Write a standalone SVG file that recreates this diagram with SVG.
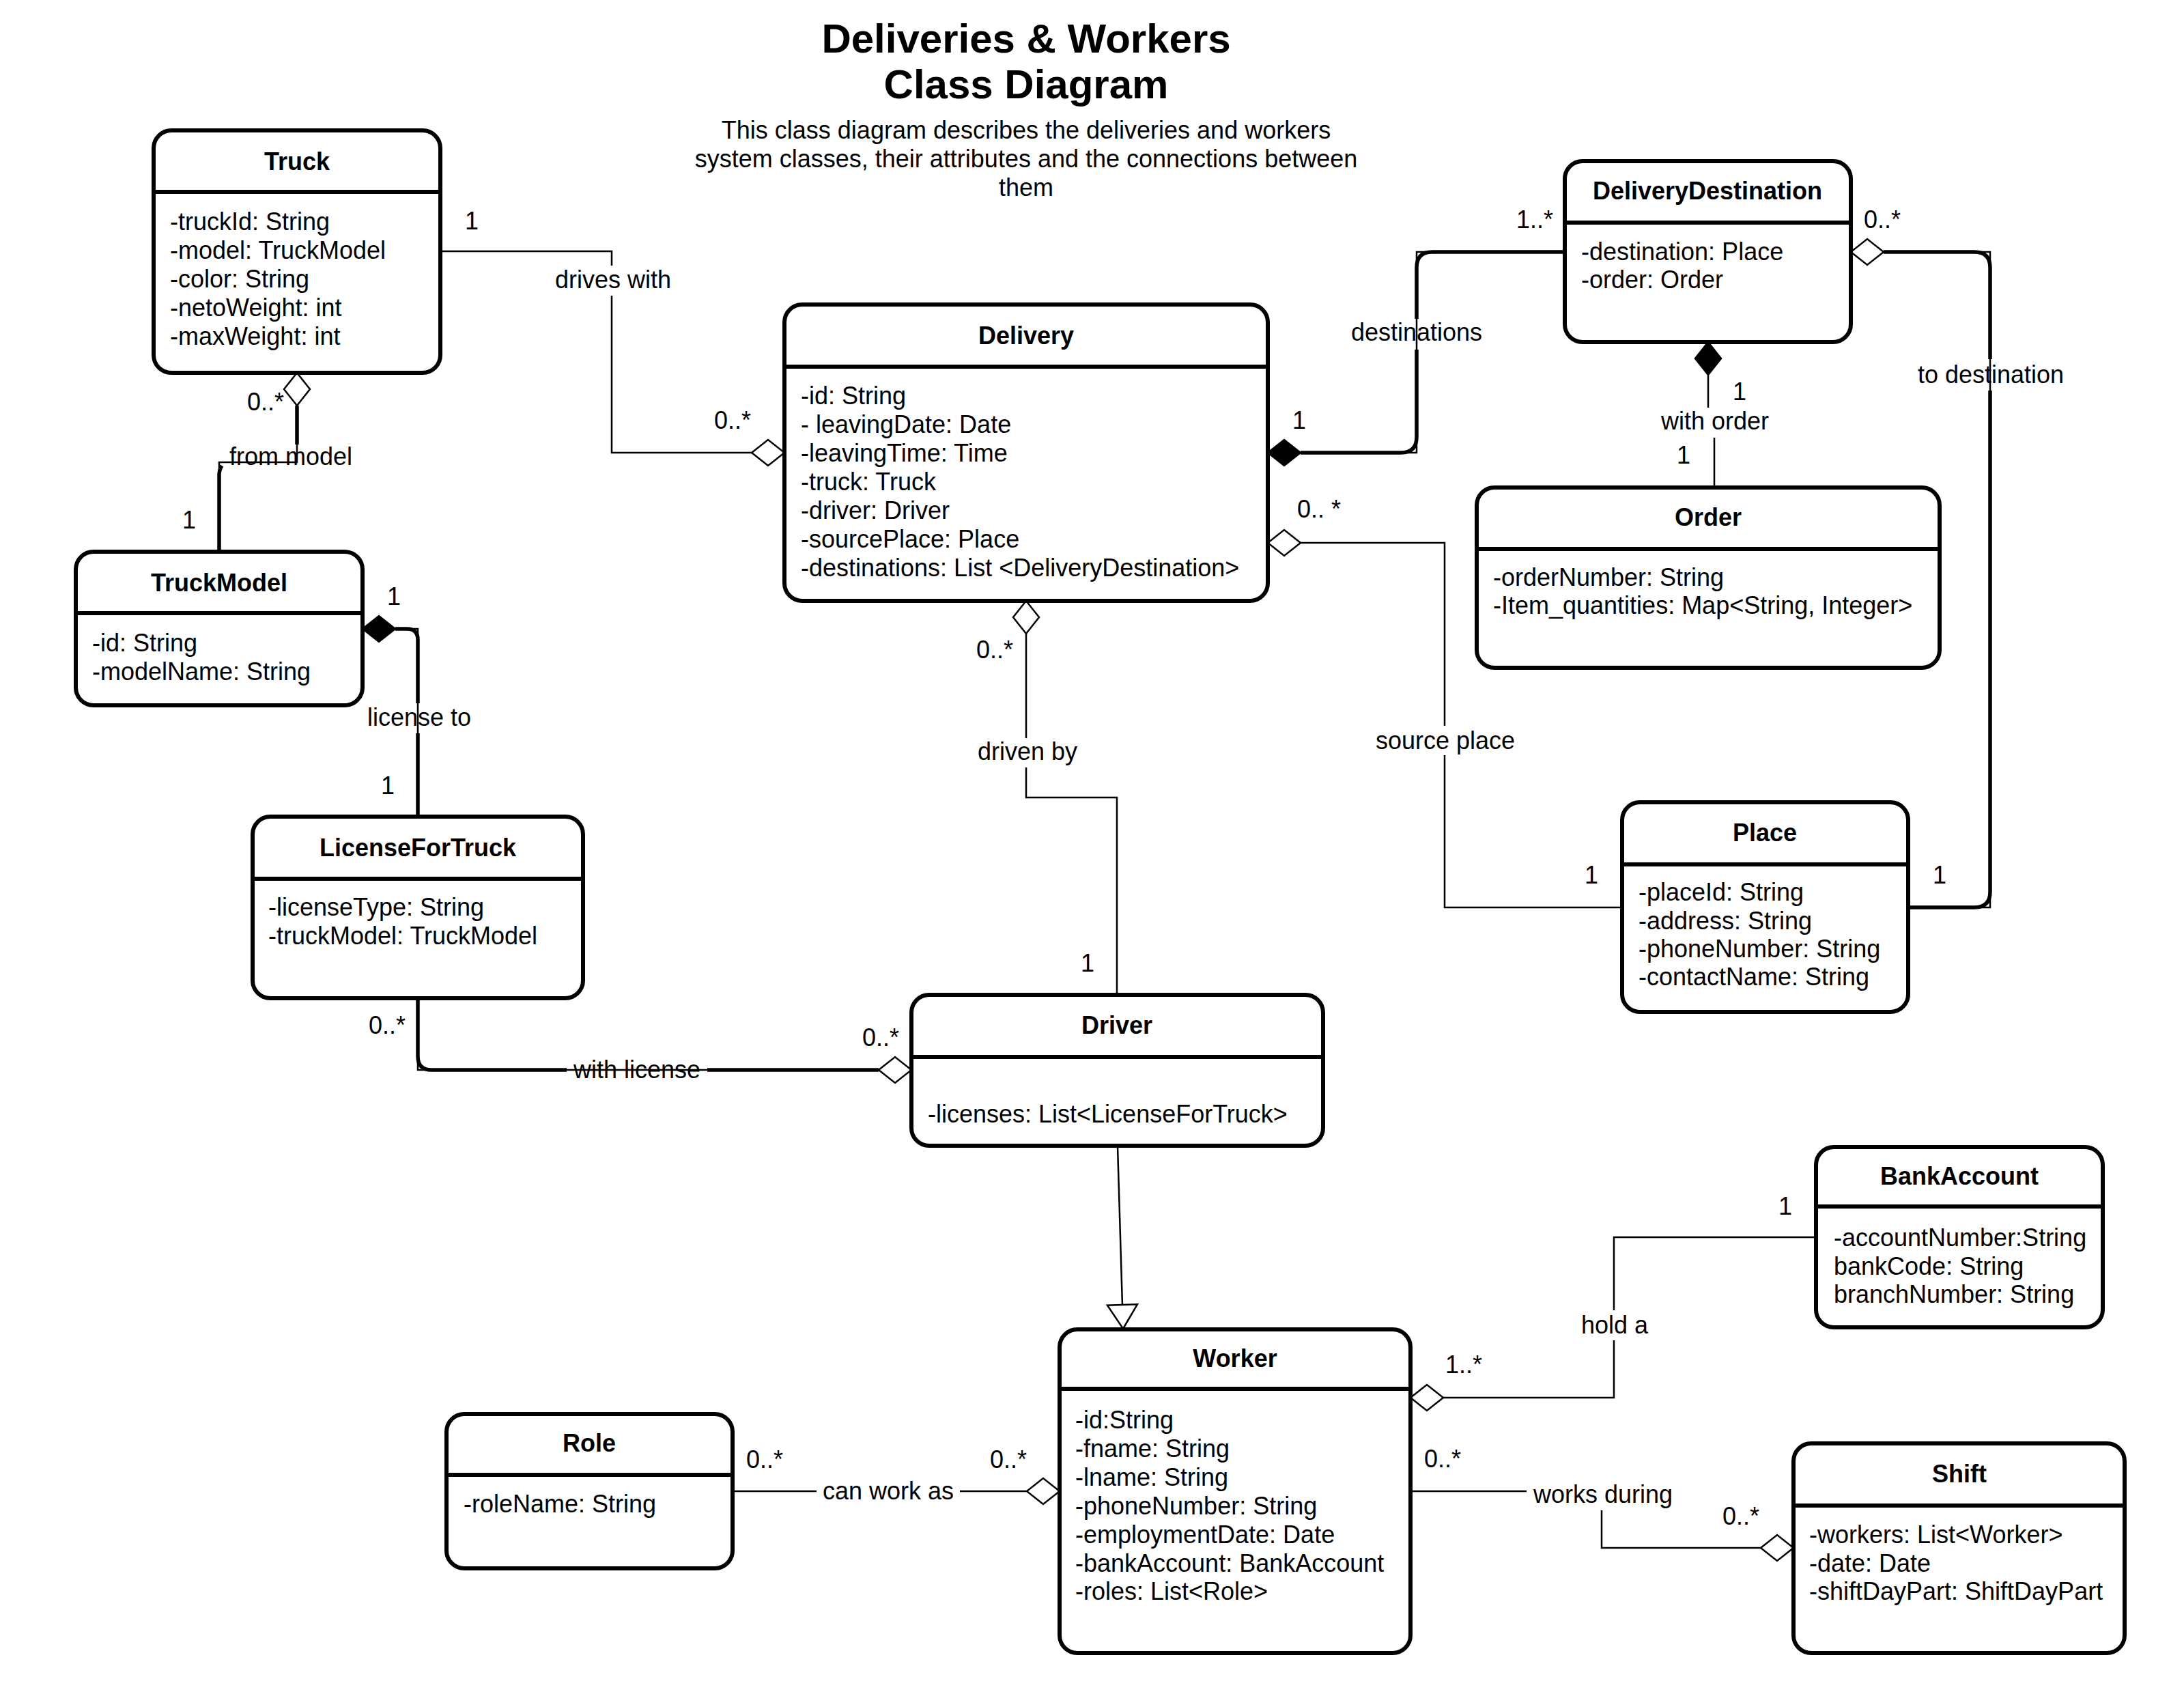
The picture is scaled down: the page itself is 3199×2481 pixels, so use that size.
<svg xmlns="http://www.w3.org/2000/svg" width="3199" height="2481" viewBox="0 0 3199 2481">
<style>
text{font-family:"Liberation Sans",Arial,sans-serif;font-size:36px;fill:#000}
.t{font-weight:bold;text-anchor:middle}
.h{font-weight:bold;font-size:60px;text-anchor:middle}
.c{text-anchor:middle}
.box{fill:#fff;stroke:#000;stroke-width:6}
.div{stroke:#000;stroke-width:6}
.thin{fill:none;stroke:#000;stroke-width:2.5}
.thick{fill:none;stroke:#000;stroke-width:5.5}
.bg{fill:#fff}
</style>
<defs>
<marker id="dH" markerUnits="userSpaceOnUse" markerWidth="56" markerHeight="46" viewBox="-3 -23 56 46" refX="0" refY="0" orient="auto"><path d="M0,0 L24,-19 L48,0 L24,19 Z" fill="#fff" stroke="#000" stroke-width="2.5"/></marker>
<marker id="dF" markerUnits="userSpaceOnUse" markerWidth="56" markerHeight="46" viewBox="-3 -23 56 46" refX="0" refY="0" orient="auto"><path d="M0,0 L24,-19 L48,0 L24,19 Z" fill="#000" stroke="#000" stroke-width="2.5"/></marker>
<marker id="tri" markerUnits="userSpaceOnUse" markerWidth="44" markerHeight="52" viewBox="-40 -26 44 52" refX="0" refY="0" orient="auto"><path d="M0,0 L-35,-22 L-35,22 Z" fill="#fff" stroke="#000" stroke-width="2.5"/></marker>
</defs>
<rect width="3199" height="2481" fill="#fff"/>
<g id="title">
<text class="h" x="1503" y="77">Deliveries &amp; Workers</text>
<text class="h" x="1503" y="144">Class Diagram</text>
<text class="c" x="1503" y="203">This class diagram describes the deliveries and workers</text>
<text class="c" x="1503" y="245">system classes, their attributes and the connections between</text>
<text class="c" x="1503" y="287">them</text>
</g>
<g id="connectors">
<!-- drives with -->
<path class="thin" d="M1149,663 H896 V368 H645" marker-start="url(#dH)"/>
<!-- from model -->
<path class="thin" d="M435,546 V677 H321 V808" marker-start="url(#dH)"/>
<path class="thick" d="M435,594 V651"/>
<path class="thick" d="M321,808 V696 Q321,688 325,682"/>
<!-- license to -->
<path class="thin" d="M531,921 H612 V1196" marker-start="url(#dF)"/>
<path class="thick" d="M579,921 H596 Q612,921 612,937 V1030"/>
<path class="thick" d="M612,1074 V1196"/>
<!-- with license -->
<path class="thin" d="M1335,1567 H612 V1462" marker-start="url(#dH)"/>
<path class="thick" d="M1287,1567 H1036"/>
<path class="thick" d="M830,1567 H632 Q612,1567 612,1547 V1462"/>
<!-- driven by -->
<path class="thin" d="M1503,880 V1168 H1636 V1457" marker-start="url(#dH)"/>
<!-- destinations -->
<path class="thin" d="M1857,663 H2075 V369 H2292" marker-start="url(#dF)"/>
<path class="thick" d="M1905,663 H2052 Q2075,663 2075,640 V512"/>
<path class="thick" d="M2075,467 V392 Q2075,369 2098,369 H2292"/>
<!-- source place -->
<path class="thin" d="M1857,795 H2116 V1329 H2376" marker-start="url(#dH)"/>
<!-- to destination -->
<path class="thin" d="M2711,369 H2915 V1329 H2795" marker-start="url(#dH)"/>
<path class="thick" d="M2759,369 H2892 Q2915,369 2915,392 V526"/>
<path class="thick" d="M2915,572 V1306 Q2915,1329 2892,1329 H2795"/>
<!-- with order -->
<path class="thin" d="M2502,501 V617 H2511 V714" marker-start="url(#dF)"/>
<!-- generalization -->
<path class="thin" d="M1637,1679 L1645,1946" marker-end="url(#tri)"/>
<!-- hold a -->
<path class="thin" d="M2066,2047 H2364 V1812 H2660" marker-start="url(#dH)"/>
<!-- can work as -->
<path class="thin" d="M1552,2184 H1073" marker-start="url(#dH)"/>
<!-- works during -->
<path class="thin" d="M2627,2267 H2346 V2184 H2066" marker-start="url(#dH)"/>
<!-- labels with background -->
<rect class="bg" x="811" y="389" width="174" height="44"/><text class="c" x="898" y="422">drives with</text>
<rect class="bg" x="1430" y="1081" width="150" height="43"/><text class="c" x="1505" y="1113">driven by</text>
<rect class="bg" x="2013" y="1063" width="208" height="43"/><text class="c" x="2117" y="1097">source place</text>
<rect class="bg" x="2431" y="597" width="162" height="44"/><text class="c" x="2512" y="629">with order</text>
<rect class="bg" x="2314" y="1919" width="102" height="44"/><text class="c" x="2365" y="1953">hold a</text>
<rect class="bg" x="1196" y="2164" width="210" height="42"/><text class="c" x="1301" y="2196">can work as</text>
<rect class="bg" x="2236" y="2168" width="220" height="44"/><text class="c" x="2348" y="2201">works during</text>
<!-- labels on lines -->
<text class="c" x="426" y="681">from model</text>
<text class="c" x="614" y="1063">license to</text>
<text class="c" x="933" y="1579">with license</text>
<text class="c" x="2075" y="499">destinations</text>
<text class="c" x="2916" y="561">to destination</text>
<!-- multiplicities -->
<text class="c" x="691" y="336">1</text>
<text class="c" x="1073" y="628">0..*</text>
<text class="c" x="389" y="601">0..*</text>
<text class="c" x="277" y="774">1</text>
<text class="c" x="577" y="886">1</text>
<text class="c" x="568" y="1163">1</text>
<text class="c" x="567" y="1514">0..*</text>
<text class="c" x="1290" y="1532">0..*</text>
<text class="c" x="1457" y="964">0..*</text>
<text class="c" x="1593" y="1423">1</text>
<text class="c" x="1903" y="628">1</text>
<text class="c" x="2248" y="334">1..*</text>
<text class="c" x="1932" y="758">0.. *</text>
<text class="c" x="2331" y="1294">1</text>
<text class="c" x="2757" y="334">0..*</text>
<text class="c" x="2841" y="1294">1</text>
<text class="c" x="2548" y="586">1</text>
<text class="c" x="2466" y="679">1</text>
<text class="c" x="2144" y="2011">1..*</text>
<text class="c" x="2615" y="1779">1</text>
<text class="c" x="1120" y="2150">0..*</text>
<text class="c" x="1477" y="2150">0..*</text>
<text class="c" x="2113" y="2149">0..*</text>
<text class="c" x="2550" y="2233">0..*</text>
</g>
<g id="Truck">
<rect class="box" x="225" y="191" width="420" height="355" rx="26"/>
<line class="div" x1="225" y1="281" x2="645" y2="281"/>
<text class="t" x="435" y="249">Truck</text>
<text x="249" y="337">-truckId: String</text>
<text x="249" y="379">-model: TruckModel</text>
<text x="249" y="421">-color: String</text>
<text x="249" y="463">-netoWeight: int</text>
<text x="249" y="505">-maxWeight: int</text>
</g>
<g id="TruckModel">
<rect class="box" x="111" y="808" width="420" height="225" rx="26"/>
<line class="div" x1="111" y1="898" x2="531" y2="898"/>
<text class="t" x="321" y="866">TruckModel</text>
<text x="135" y="954">-id: String</text>
<text x="135" y="996">-modelName: String</text>
</g>
<g id="Delivery">
<rect class="box" x="1149" y="446" width="708" height="434" rx="26"/>
<line class="div" x1="1149" y1="537" x2="1857" y2="537"/>
<text class="t" x="1503" y="504">Delivery</text>
<text x="1173" y="592">-id: String</text>
<text x="1173" y="634">- leavingDate: Date</text>
<text x="1173" y="676">-leavingTime: Time</text>
<text x="1173" y="718">-truck: Truck</text>
<text x="1173" y="760">-driver: Driver</text>
<text x="1173" y="802">-sourcePlace: Place</text>
<text x="1173" y="844">-destinations: List &lt;DeliveryDestination&gt;</text>
</g>
<g id="DeliveryDestination">
<rect class="box" x="2292" y="236" width="419" height="265" rx="26"/>
<line class="div" x1="2292" y1="326" x2="2711" y2="326"/>
<text class="t" x="2501" y="292">DeliveryDestination</text>
<text x="2316" y="381">-destination: Place</text>
<text x="2316" y="422">-order: Order</text>
</g>
<g id="Order">
<rect class="box" x="2163" y="714" width="678" height="264" rx="26"/>
<line class="div" x1="2163" y1="804" x2="2841" y2="804"/>
<text class="t" x="2502" y="770">Order</text>
<text x="2187" y="858">-orderNumber: String</text>
<text x="2187" y="899">-Item_quantities: Map&lt;String, Integer&gt;</text>
</g>
<g id="Place">
<rect class="box" x="2376" y="1175" width="419" height="307" rx="26"/>
<line class="div" x1="2376" y1="1266" x2="2795" y2="1266"/>
<text class="t" x="2585" y="1232">Place</text>
<text x="2400" y="1319">-placeId: String</text>
<text x="2400" y="1361">-address: String</text>
<text x="2400" y="1402">-phoneNumber: String</text>
<text x="2400" y="1443">-contactName: String</text>
</g>
<g id="LicenseForTruck">
<rect class="box" x="370" y="1196" width="484" height="266" rx="26"/>
<line class="div" x1="370" y1="1287" x2="854" y2="1287"/>
<text class="t" x="612" y="1254">LicenseForTruck</text>
<text x="393" y="1341">-licenseType: String</text>
<text x="393" y="1383">-truckModel: TruckModel</text>
</g>
<g id="Driver">
<rect class="box" x="1335" y="1457" width="603" height="221" rx="26"/>
<line class="div" x1="1335" y1="1548" x2="1938" y2="1548"/>
<text class="t" x="1636" y="1514">Driver</text>
<text x="1359" y="1644">-licenses: List&lt;LicenseForTruck&gt;</text>
</g>
<g id="Worker">
<rect class="box" x="1552" y="1947" width="514" height="474" rx="26"/>
<line class="div" x1="1552" y1="2034" x2="2066" y2="2034"/>
<text class="t" x="1809" y="2002">Worker</text>
<text x="1575" y="2092">-id:String</text>
<text x="1575" y="2134">-fname: String</text>
<text x="1575" y="2176">-lname: String</text>
<text x="1575" y="2218">-phoneNumber: String</text>
<text x="1575" y="2260">-employmentDate: Date</text>
<text x="1575" y="2302">-bankAccount: BankAccount</text>
<text x="1575" y="2343">-roles: List&lt;Role&gt;</text>
</g>
<g id="Role">
<rect class="box" x="654" y="2071" width="419" height="226" rx="26"/>
<line class="div" x1="654" y1="2160" x2="1073" y2="2160"/>
<text class="t" x="863" y="2126">Role</text>
<text x="679" y="2215">-roleName: String</text>
</g>
<g id="BankAccount">
<rect class="box" x="2660" y="1680" width="420" height="264" rx="26"/>
<line class="div" x1="2660" y1="1767" x2="3080" y2="1767"/>
<text class="t" x="2870" y="1735">BankAccount</text>
<text x="2686" y="1825">-accountNumber:String</text>
<text x="2686" y="1867">bankCode: String</text>
<text x="2686" y="1908">branchNumber: String</text>
</g>
<g id="Shift">
<rect class="box" x="2627" y="2114" width="485" height="307" rx="26"/>
<line class="div" x1="2627" y1="2205" x2="3112" y2="2205"/>
<text class="t" x="2870" y="2171">Shift</text>
<text x="2650" y="2260">-workers: List&lt;Worker&gt;</text>
<text x="2650" y="2302">-date: Date</text>
<text x="2650" y="2343">-shiftDayPart: ShiftDayPart</text>
</g>
</svg>
